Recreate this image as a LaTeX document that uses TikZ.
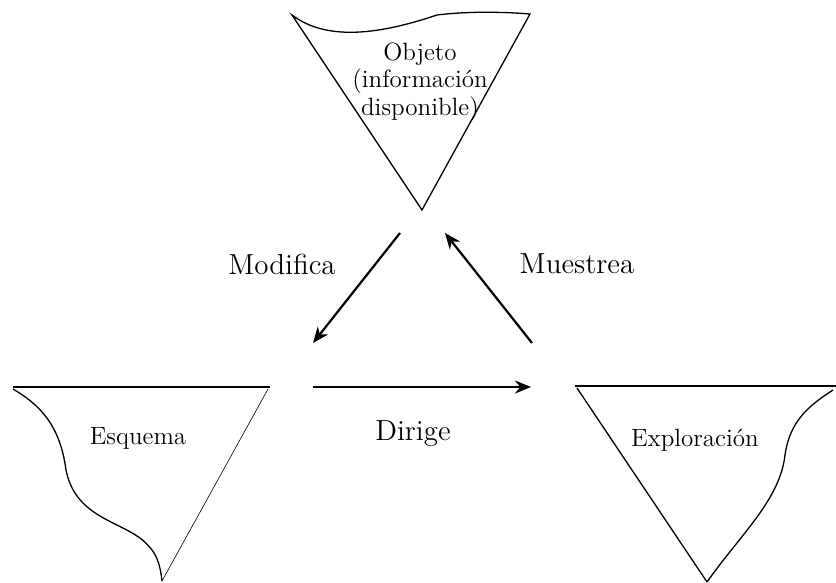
\documentclass[tikz,border=0pt]{standalone}
\usepackage{tikz}
\usetikzlibrary{arrows.meta,positioning}

\begin{document}
\begin{tikzpicture}[
  x=0.5pt,y=-0.5pt,
  tri/.style={line width=0.65pt},
  thin/.style={line width=0.3pt},
  txt/.style={font=\fontsize{12.5}{13.8}\selectfont,align=center,inner sep=0pt},
  lbl/.style={font=\fontsize{14.5}{17}\selectfont,inner sep=0pt},
  a/.style={-{Stealth[length=8pt,width=6.5pt]},line width=1.1pt}
]
\useasboundingbox (0,0) rectangle (836,583);
% triangles
\draw[tri] (292,15) .. controls (325,40) and (375,36) .. (437,15)
  .. controls (470,11) and (505,12) .. (530,14) -- (422,210) -- cycle;
\draw[tri] (13,387) -- (270,387);
\draw[tri] (13,389) .. controls (40,405) and (60,425) .. (66,470)
  .. controls (75,515) and (115,520) .. (140,538)
  .. controls (158,552) and (160,565) .. (162,581);
\draw[thin] (268,389) -- (162,581);
\draw[tri] (575,386) -- (836,386);
\draw[tri] (577,388) -- (707,582);
\draw[tri] (833,390) .. controls (810,405) and (790,420) .. (785,455)
  .. controls (780,500) and (740,535) .. (707,582);
\node[txt] (obj) at (420,82) {Objeto\\(información\\disponible)};
\node[txt] (esq) at (138,438) {Esquema};
\node[txt] (exp) at (695,440) {Exploración};
% arrow ends
\coordinate (m1) at (400,233);
\coordinate (m2) at (313,343);
\coordinate (s1) at (532,343);
\coordinate (s2) at (445,233);
\coordinate (d1) at (313,387);
\coordinate (d2) at (531,387);
\draw[a] (m1)--(m2); \draw[a] (s1)--(s2); \draw[a] (d1)--(d2);
\node[lbl] (mod) at (282,264) {Modifica};
\node[lbl] (mue) at (577,264) {Muestrea};
\node[lbl] (dir) at (413,434) {Dirige};
\end{tikzpicture}
\end{document}
